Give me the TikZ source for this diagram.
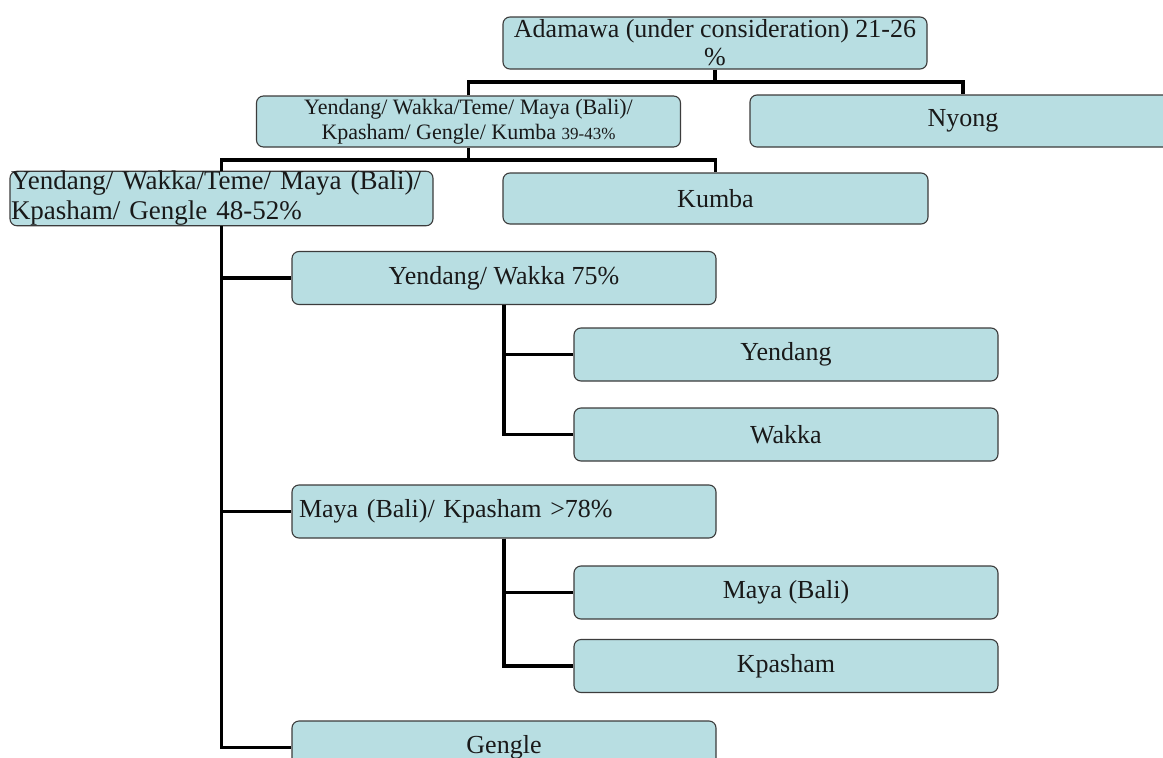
\documentclass[tikz,border=0pt]{standalone}
\usepackage{fontspec}
\setmainfont{Liberation Serif}
\definecolor{boxfill}{RGB}{184,222,226}
\definecolor{boxline}{RGB}{60,60,60}
\definecolor{txt}{RGB}{25,25,25}
\begin{document}
\begin{tikzpicture}[x=1pt,y=-1pt,
  orgbox/.style={draw=boxline, line width=1.1pt, fill=boxfill, rounded corners=7pt,
    minimum width=424pt, minimum height=53pt, inner sep=0pt, text=txt,
    font=\fontsize{26}{30}\selectfont, align=center},
  link/.style={line width=3.2pt, black}]
\useasboundingbox (0,0) rectangle (1163,758);
\clip (0,0) rectangle (1163,758);
\fill[white] (0,0) rectangle (1163,758);
% nodes
\node[orgbox, minimum height=52pt, font=\fontsize{26}{31}\selectfont] (adam) at (715,43) {Adamawa (under consideration) 21-26\\[-3pt]\%};
\node[orgbox, minimum height=51pt, font=\fontsize{22}{25}\selectfont] (l2) at (468.5,121.5) {Yendang/ Wakka/Teme/ Maya (Bali)/\\Kpasham/ Gengle/ Kumba {\fontsize{17}{20}\selectfont 39-43\%}};
\node[orgbox, minimum width=426pt, minimum height=52pt] (nyong) at (963,121) {Nyong};
\node[orgbox, minimum width=423pt, minimum height=51pt, align=left, text width=421pt, inner xsep=1pt, font=\fontsize{27}{30}\selectfont] (l3a) at (221.5,198.5) {Yendang/ Wakka/Teme/ Maya (Bali)/\\Kpasham/ Gengle 48-52\%};
\node[orgbox, minimum width=425pt, minimum height=51pt] (kumba) at (715.5,198.5) {Kumba};
\node[orgbox] (yw) at (504,278) {Yendang/ Wakka 75\%};
\node[orgbox] (yendang) at (786,354.5) {Yendang};
\node[orgbox] (wakka) at (786,434.5) {Wakka};
\node[orgbox, align=left, text width=410pt, inner xsep=7pt] (maya78) at (504,511.5) {Maya (Bali)/ Kpasham >78\%};
\node[orgbox] (mayab) at (786,592.5) {Maya (Bali)};
\node[orgbox] (kpasham) at (786,666) {Kpasham};
\node[orgbox] (gengle) at (504,747.5) {Gengle};
% connectors
\coordinate (b1) at (715,82);
\coordinate (b2) at (468.5,160);
\draw[link] (adam.south) -- (b1);
\draw[link] (l2.north) |- (b1) -| (nyong.north);
\draw[link] (l2.south) -- (b2);
\draw[link] (l3a.north) |- (b2) -| (kumba.north);
\draw[link] (l3a.south) |- (gengle.west);
\draw[link] (l3a.south) |- (yw.west);
\draw[link] (l3a.south) |- (maya78.west);
\draw[link] (yw.south) |- (wakka.west);
\draw[link] (yw.south) |- (yendang.west);
\draw[link] (maya78.south) |- (kpasham.west);
\draw[link] (maya78.south) |- (mayab.west);
\end{tikzpicture}
\end{document}
